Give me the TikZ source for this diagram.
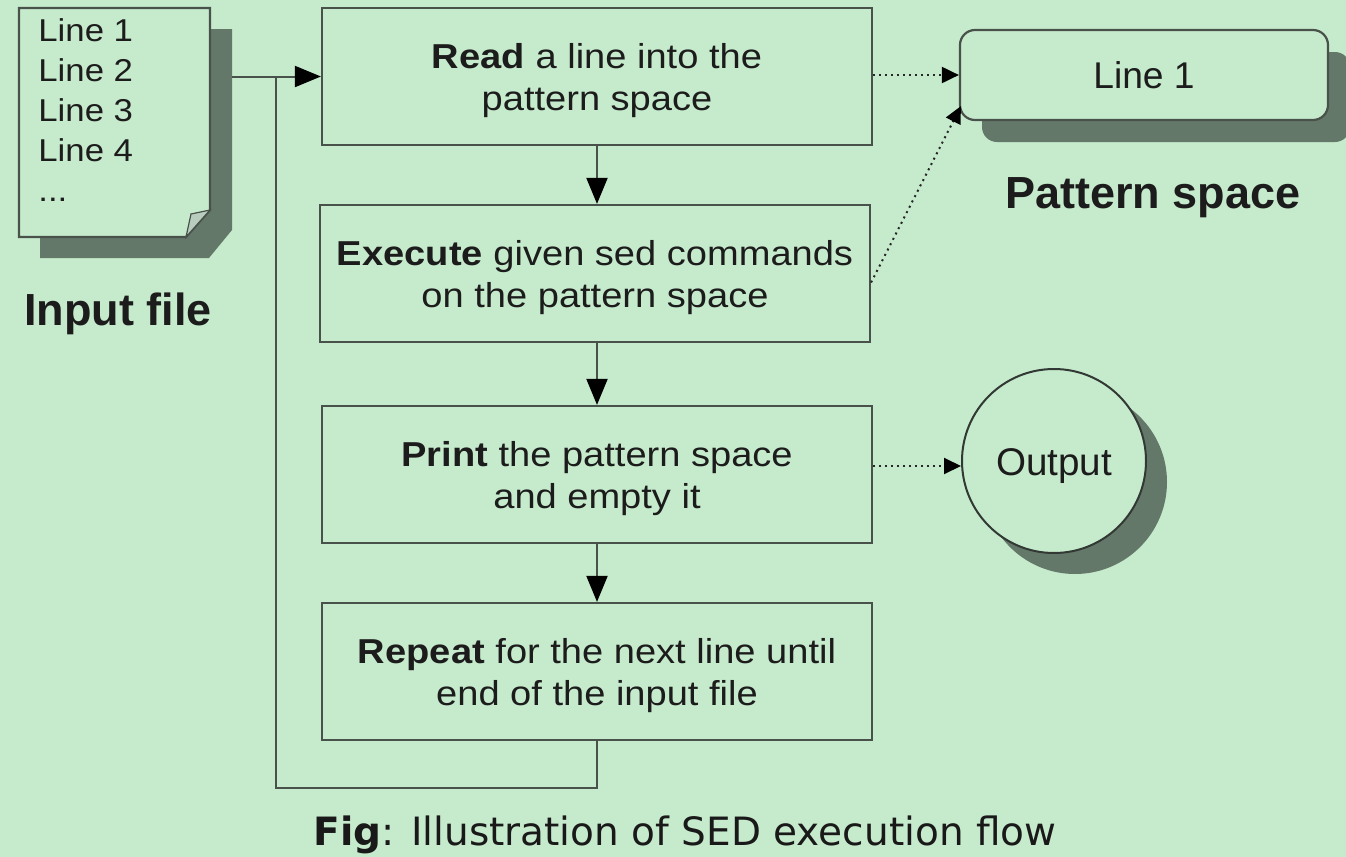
\documentclass[tikz,border=0pt]{standalone}
\usepackage{fontspec}
\setmainfont{Liberation Sans}
\newfontfamily\boxfont{Liberation Sans}[FakeStretch=1.1]
\newfontfamily\djv{DejaVu Sans}
\usetikzlibrary{arrows.meta}
\definecolor{bg}{RGB}{198,235,204}
\definecolor{shd}{RGB}{100,120,105}
\definecolor{edge}{RGB}{72,82,74}
\definecolor{txt}{RGB}{28,28,28}
\definecolor{fold}{RGB}{185,205,190}
\newcommand{\twolines}[2]{\raisebox{-16.75pt}[0pt][0pt]{\begin{tabular}[b]{@{}c@{}}#1\\#2\end{tabular}}}
\begin{document}
\begin{tikzpicture}[x=0.5pt,y=-0.5pt,
  stepbox/.style={draw=edge, line width=1.1pt, fill=bg, minimum width=275pt, minimum height=68.5pt,
    inner sep=0pt, align=center, font=\boxfont\fontsize{17.3}{21}\selectfont, text=txt},
  flow/.style={draw=edge, line width=1pt, -{Triangle[length=13pt,width=10.5pt,color=black]}},
  plain/.style={draw=edge, line width=1pt},
  dots/.style={draw=black!85, line width=1pt, dotted, -{Triangle[length=8.5pt,width=8pt,color=black]}},
  title/.style={anchor=base, inner sep=0pt, font=\fontsize{22.5}{26}\selectfont\bfseries, text=txt},
  doctxt/.style={anchor=base west, font=\boxfont\fontsize{15.8}{20}\selectfont, text=txt, inner sep=0pt},
  shadow/.style={fill=shd, draw=none}
]
\useasboundingbox (0,0) rectangle (1346,857);
\fill[bg] (0,0) rectangle (1346,857);

% input file document
\fill[shadow] (40,29) -- (232,29) -- (232,230) -- (209,258) -- (40,258) -- cycle;
\node[minimum width=95.5pt, minimum height=114.5pt, inner sep=0pt] (doc) at (114.5,122.5) {};
\draw[edge, line width=1.1pt, fill=bg] (19,8) -- (210,8) -- (210,210) -- (186,237) -- (19,237) -- cycle;
\draw[edge, line width=0.6pt, fill=fold] (186,237) -- (191,214) -- (210,210) -- cycle;
\node[doctxt] (l1) at (38,41) {Line 1};
\node[doctxt] (l2) at (38,81) {Line 2};
\node[doctxt] (l3) at (38,121) {Line 3};
\node[doctxt] (l4) at (38,161) {Line 4};
\node[doctxt] (l5) at (38,201) {...};
\node[title] (inputlbl) at (118,325) {Input file};

% flow boxes
\node[stepbox] (read) at (597,76.5) {\twolines{\textbf{Read} a line into the}{pattern space}};
\node[stepbox] (exec) at (595,273.5) {\twolines{\textbf{Execute} given sed commands}{on the pattern space}};
\node[stepbox] (print) at (597,474.5) {\twolines{\textbf{Print} the pattern space}{and empty it}};
\node[stepbox] (repeat) at (597,671.5) {\twolines{\textbf{Repeat} for the next line until}{end of the input file}};

% pattern space
\fill[shadow, rounded corners=7.5pt] (982,52) rectangle (1350,142);
\node[draw=edge, line width=1.1pt, fill=bg, rounded corners=7.5pt, minimum width=184pt, minimum height=45pt,
  inner sep=0pt, font=\fontsize{18.6}{21}\selectfont, text=txt] (line1) at (1144,75) {\raisebox{-6.5pt}[0pt][0pt]{Line 1}};
\node[title] (patlbl) at (1153,208) {Pattern space};

% output
\fill[shadow] (1075,482) circle[radius=92];
\node[draw=edge!70!black, line width=1pt, fill=bg, circle, minimum size=92pt, inner sep=0pt,
  font=\fontsize{19.3}{21}\selectfont, text=txt] (out) at (1054,461) {\raisebox{-7pt}[0pt][0pt]{Output}};

% connectors
\coordinate (join) at (276,76.5);
\draw[flow] ([xshift=11pt]doc.east |- read.west) -- (read.west);
\draw[flow] (read.south) -- (read.south |- exec.north);
\draw[flow] (exec.south -| read.south) -- (read.south |- print.north);
\draw[flow] (print.south) -- (repeat.north);
\draw[plain] (repeat.south) -- ++(0,47) -| (join);
\draw[dots] (read.east |- line1.west) -- (line1.west);
\draw[dots] ([yshift=-4.5pt]exec.east) -- ([xshift=1pt,yshift=7.5pt]line1.south west);
\draw[dots] ([yshift=-2.5pt]print.east |- out.west) -- ([yshift=-2.5pt]out.west);

% caption
\node[anchor=base, inner sep=0pt, font=\djv\fontsize{19.5}{22}\selectfont, text=txt!90!black] (cap) at (685,845) {\textbf{Fig}: Illustration of SED execution flow};
\end{tikzpicture}
\end{document}
